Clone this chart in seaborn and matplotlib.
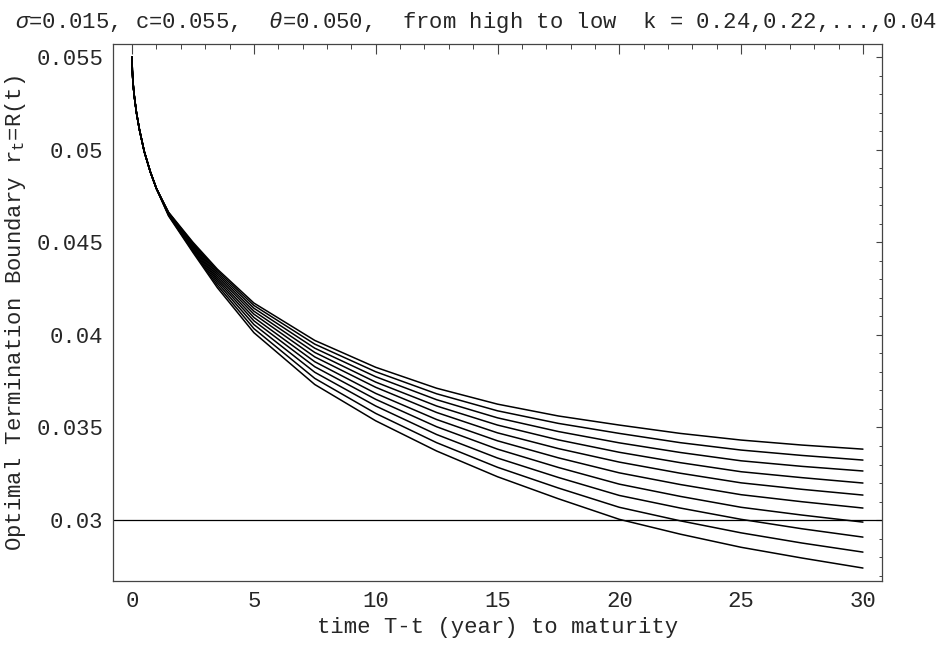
import numpy as np
import pandas as pd
import matplotlib
matplotlib.use("Agg")
import matplotlib.pyplot as plt
from matplotlib.ticker import MultipleLocator, FixedLocator
import seaborn as sns

# ---- data ----
k_values = [0.24, 0.22, 0.20, 0.18, 0.16, 0.14, 0.12, 0.10, 0.08, 0.06]

t_head = [0.0, 0.01, 0.03, 0.06, 0.1, 0.18, 0.3, 0.5, 0.75, 1.0]
r_head = [0.0550, 0.0543, 0.0538, 0.0533, 0.0528, 0.0520, 0.0511, 0.0499, 0.0488, 0.0479]

t_tail = [1.5, 2.5, 3.5, 5, 7.5, 10, 12.5, 15, 17.5, 20, 22.5, 25, 27.5, 30]
curve_k024 = [0.04662, 0.04500, 0.04355, 0.04172, 0.03970, 0.03825, 0.03712, 0.03626, 0.03562, 0.03513, 0.03468, 0.03432, 0.03405, 0.03383]
curve_k022 = [0.04660, 0.04494, 0.04346, 0.04159, 0.03950, 0.03801, 0.03682, 0.03590, 0.03522, 0.03468, 0.03418, 0.03378, 0.03349, 0.03324]
curve_k020 = [0.04658, 0.04488, 0.04336, 0.04144, 0.03928, 0.03774, 0.03650, 0.03552, 0.03478, 0.03417, 0.03365, 0.03320, 0.03290, 0.03265]
curve_k018 = [0.04656, 0.04482, 0.04326, 0.04128, 0.03905, 0.03745, 0.03616, 0.03513, 0.03433, 0.03366, 0.03310, 0.03261, 0.03229, 0.03200]
curve_k016 = [0.04654, 0.04476, 0.04315, 0.04112, 0.03881, 0.03717, 0.03581, 0.03471, 0.03386, 0.03313, 0.03253, 0.03201, 0.03166, 0.03135]
curve_k014 = [0.04652, 0.04470, 0.04304, 0.04094, 0.03855, 0.03684, 0.03543, 0.03428, 0.03336, 0.03255, 0.03192, 0.03137, 0.03099, 0.03065]
curve_k012 = [0.04650, 0.04464, 0.04293, 0.04076, 0.03828, 0.03652, 0.03504, 0.03383, 0.03284, 0.03194, 0.03128, 0.03069, 0.03027, 0.02989]
curve_k010 = [0.04648, 0.04457, 0.04281, 0.04056, 0.03798, 0.03616, 0.03462, 0.03335, 0.03230, 0.03133, 0.03065, 0.03004, 0.02953, 0.02908]
curve_k008 = [0.04645, 0.04451, 0.04268, 0.04034, 0.03765, 0.03576, 0.03418, 0.03285, 0.03173, 0.03069, 0.02996, 0.02931, 0.02876, 0.02827]
curve_k006 = [0.04642, 0.04445, 0.04255, 0.04012, 0.03732, 0.03536, 0.03373, 0.03234, 0.03115, 0.03004, 0.02924, 0.02853, 0.02795, 0.02741]
curves = [curve_k024, curve_k022, curve_k020, curve_k018, curve_k016,
          curve_k014, curve_k012, curve_k010, curve_k008, curve_k006]

r_floor = 0.03

x_ticks = [0, 5, 10, 15, 20, 25, 30]
y_ticks = [0.03, 0.035, 0.04, 0.045, 0.05, 0.055]
y_tick_labels = ["0.03", "0.035", "0.04", "0.045", "0.05", "0.055"]

title = r"$\sigma$=0.015, c=0.055,  $\theta$=0.050,  from high to low  k = 0.24,0.22,...,0.04"
xlabel = "time T-t (year) to maturity"
ylabel = r"Optimal Termination Boundary $\mathrm{r}_{\mathrm{t}}$=R(t)"

# ---- build long table ----
rows = []
for k, c in zip(k_values, curves):
    for t, r in zip(t_head + t_tail, r_head + c):
        rows.append({"t": t, "R": r, "k": f"{k:.2f}"})
df = pd.DataFrame(rows)

sns.set_style("white")
plt.rcParams["font.family"] = ["Liberation Mono", "DejaVu Sans Mono"]
plt.rcParams["mathtext.fontset"] = "custom"
plt.rcParams["mathtext.rm"] = "Liberation Mono"
plt.rcParams["mathtext.it"] = "Liberation Mono:italic"

fig = plt.figure(figsize=(9.52, 6.47), dpi=100)
ax = fig.add_axes([113.3 / 952, 1 - 581 / 647, (881.7 - 113.3) / 952, (581 - 44.3) / 647])

sns.lineplot(data=df, x="t", y="R", hue="k", palette=["black"] * len(k_values),
             linewidth=1.1, legend=False, ax=ax, sort=False, estimator=None)
ax.axhline(r_floor, color="black", linewidth=0.9)

ax.set_xlim(-0.77, 30.77)
ax.set_ylim(0.02671, 0.05569)

ax.xaxis.set_major_locator(FixedLocator(x_ticks))
ax.xaxis.set_minor_locator(MultipleLocator(1))
ax.set_yticks(y_ticks)
ax.set_yticklabels(y_tick_labels)
ax.yaxis.set_minor_locator(MultipleLocator(0.001))

ax.tick_params(which="both", direction="in", top=True, right=True, color="#444444",
               labelsize=16, pad=7)
ax.tick_params(axis="x", which="major", length=7, width=0.8)
ax.tick_params(axis="x", which="minor", length=3.5, width=0.7)
ax.tick_params(axis="y", which="major", length=4.5, width=0.8)
ax.tick_params(axis="y", which="minor", length=2.5, width=0.7)
for s in ax.spines.values():
    s.set_color("#444444")
    s.set_linewidth(0.9)

ax.set_xlabel(xlabel, fontsize=16, labelpad=4)
ax.set_ylabel(ylabel, fontsize=16, labelpad=6)
fig.text(0.5, 0.985, title, ha="center", va="top", fontsize=16)

fig.savefig("out.png", dpi=100)
